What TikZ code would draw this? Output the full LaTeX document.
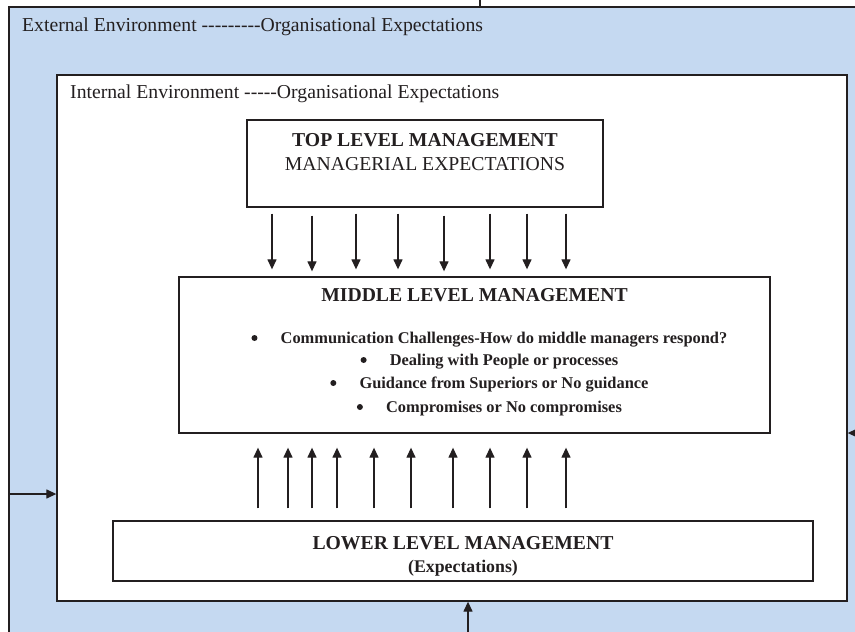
\documentclass[tikz,border=0pt]{standalone}
\usepackage{fontspec}
\setmainfont{Liberation Serif}[Ligatures=TeXOff]
\usetikzlibrary{arrows.meta,positioning}

\definecolor{envblue}{RGB}{197,217,241}
\definecolor{inkline}{RGB}{35,31,32}

\tikzset{
	box/.style={draw=inkline, line width=1.3bp, fill=white, inner sep=0pt},
	arr/.style={draw=inkline, line width=1.3bp, -{Triangle[length=10bp,width=9bp]}},
	txt/.style={inner sep=0pt, text=inkline, font=\fontsize{19.7bp}{24bp}\selectfont},
	head/.style={txt, anchor=base, font=\fontsize{19.7bp}{24bp}\selectfont\bfseries},
	item/.style={txt, anchor=base, font=\fontsize{16.4bp}{20bp}\selectfont\bfseries},
}

\begin{document}
\begin{tikzpicture}[x=1bp, y=-1bp]
	\useasboundingbox (0,0) rectangle (855,632);
	\clip (0,0) rectangle (855,632);
	\draw[draw=inkline, line width=1.3bp, fill=envblue] (9,7) rectangle (875,650);
	
	\node[box, minimum width=790bp, minimum height=526bp] (inner) at (452,338) {};
	\node[box, minimum width=356bp, minimum height=87bp] (top) at (425,163.5) {};
	\node[box, minimum width=591bp, minimum height=156bp] (middle) at (474.5,355) {};
	\node[box, minimum width=700bp, minimum height=60bp] (lower) at (463,551) {};
	
	\node[txt, anchor=base west] (ext) at (22,32) {External Environment ---------Organisational Expectations};
	\node[txt, anchor=base west] (int) at (70,99) {Internal Environment -----Organisational Expectations};
	
	\node[head] (toptitle) at (425,146.5) {TOP LEVEL MANAGEMENT};
	\node[txt, anchor=base] (topsub) at (425,170.5) {MANAGERIAL EXPECTATIONS};
	
	\node[head] (midtitle) at (474.5,301.5) {MIDDLE LEVEL MANAGEMENT};
	\node[item] (c1) at (504,343.5) {Communication Challenges-How do middle managers respond?};
	\node[item] (c2) at (504,365.5) {Dealing with People or processes};
	\node[item] (c3) at (504,388.5) {Guidance from Superiors or No guidance};
	\node[item] (c4) at (504,412.5) {Compromises or No compromises};
	\fill[inkline] ([xshift=-26bp, yshift=5.5bp]c1.base west) circle (3bp);
	\fill[inkline] ([xshift=-26bp, yshift=5.5bp]c2.base west) circle (3bp);
	\fill[inkline] ([xshift=-26bp, yshift=5.5bp]c3.base west) circle (3bp);
	\fill[inkline] ([xshift=-26bp, yshift=5.5bp]c4.base west) circle (3bp);
	
	\node[head] (lowtitle) at (463,549.5) {LOWER LEVEL MANAGEMENT};
	\node[head, font=\fontsize{17.8bp}{20bp}\selectfont\bfseries] (lowsub) at (463,572) {(Expectations)};
	
	\draw[arr, shorten <=6bp, shorten >=7bp] (272,0 |- top.south) -- (272,0 |- middle.north);
	\draw[arr, shorten <=8bp, shorten >=5bp] (312,0 |- top.south) -- (312,0 |- middle.north);
	\draw[arr, shorten <=6bp, shorten >=7bp] (356,0 |- top.south) -- (356,0 |- middle.north);
	\draw[arr, shorten <=6bp, shorten >=7bp] (398,0 |- top.south) -- (398,0 |- middle.north);
	\draw[arr, shorten <=8bp, shorten >=5bp] (444,0 |- top.south) -- (444,0 |- middle.north);
	\draw[arr, shorten <=6bp, shorten >=7bp] (490,0 |- top.south) -- (490,0 |- middle.north);
	\draw[arr, shorten <=6bp, shorten >=7bp] (527,0 |- top.south) -- (527,0 |- middle.north);
	\draw[arr, shorten <=6bp, shorten >=7bp] (566,0 |- top.south) -- (566,0 |- middle.north);
	
	\draw[arr, shorten <=12bp, shorten >=14bp] (258,0 |- lower.north) -- (258,0 |- middle.south);
	\draw[arr, shorten <=12bp, shorten >=14bp] (288,0 |- lower.north) -- (288,0 |- middle.south);
	\draw[arr, shorten <=12bp, shorten >=14bp] (312,0 |- lower.north) -- (312,0 |- middle.south);
	\draw[arr, shorten <=12bp, shorten >=14bp] (337,0 |- lower.north) -- (337,0 |- middle.south);
	\draw[arr, shorten <=12bp, shorten >=14bp] (374,0 |- lower.north) -- (374,0 |- middle.south);
	\draw[arr, shorten <=12bp, shorten >=14bp] (411,0 |- lower.north) -- (411,0 |- middle.south);
	\draw[arr, shorten <=12bp, shorten >=14bp] (453,0 |- lower.north) -- (453,0 |- middle.south);
	\draw[arr, shorten <=12bp, shorten >=14bp] (490,0 |- lower.north) -- (490,0 |- middle.south);
	\draw[arr, shorten <=12bp, shorten >=14bp] (527,0 |- lower.north) -- (527,0 |- middle.south);
	\draw[arr, shorten <=12bp, shorten >=14bp] (566,0 |- lower.north) -- (566,0 |- middle.south);
	
	\coordinate (lin) at (9,494);
	\coordinate (rin) at (862,433);
	\coordinate (bin) at (468,632);
	\coordinate (tin) at (480,0);
	\draw[arr] (lin) -- (lin -| inner.west);
	\draw[arr] (rin) -- (rin -| inner.east);
	\draw[arr] (bin) -- (bin |- inner.south);
	\draw[draw=inkline, line width=1.1bp] (tin) -- ++(0,7);
\end{tikzpicture}
\end{document}
